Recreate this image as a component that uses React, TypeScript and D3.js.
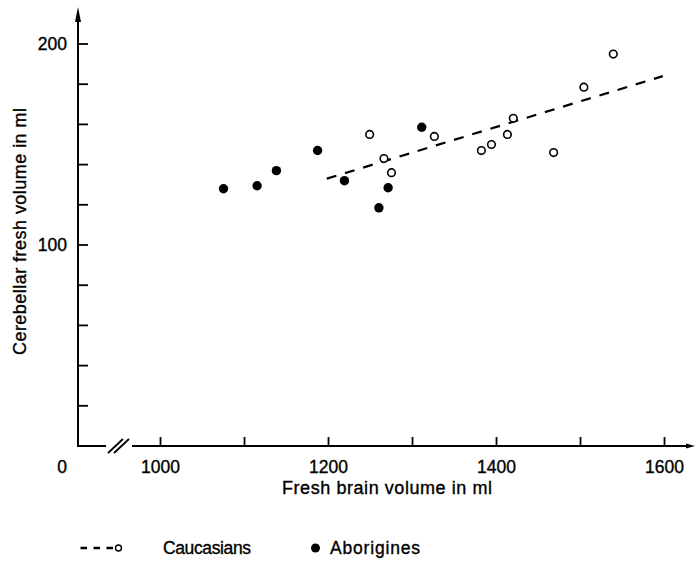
import React from "react";
import * as d3 from "d3";

const caucasianBrain = [1249, 1266, 1275, 1326, 1382, 1394, 1413, 1420, 1468, 1504, 1539];
const caucasianCereb = [155, 143, 136, 154, 147, 150, 155, 163, 146, 178.5, 195];
const aborigineBrain = [1075, 1115, 1138, 1187, 1219, 1260, 1271, 1311];
const aborigineCereb = [128, 129.5, 137, 147, 132, 118.5, 128.5, 158.6];
const fitBrain = [1198, 1598];
const fitCereb = [133, 184];
const xTickValues = [1000, 1100, 1200, 1300, 1400, 1500, 1600];
const xTickLabels = ["1000", "", "1200", "", "1400", "", "1600"];
const yTickValues = [20, 40, 60, 80, 100, 120, 140, 160, 180, 200];
const yTickLabels = ["", "", "", "", "100", "", "", "", "", "200"];

const FONT = "'Liberation Sans', Arial, Helvetica, sans-serif";
const TS = { stroke: "#000", strokeWidth: 0.35 };

export default function App() {
  const x = d3.scaleLinear().domain([1000, 1600]).range([160.5, 664.5]);
  const y = d3.scaleLinear().domain([0, 200]).range([446, 44]);
  const x0 = 78;
  const y0 = y(0);
  const line = d3
    .line<number>()
    .x((d, i) => x(fitBrain[i]))
    .y((d, i) => y(fitCereb[i]));

  return (
    <svg
      width={696}
      height={564}
      style={{ position: "absolute", left: 0, top: 0, background: "#fff" }}
      fontFamily={FONT}
    >
      <rect width={696} height={564} fill="#fff" />
      {/* y axis */}
      <line x1={x0} y1={y0 + 1} x2={x0} y2={16} stroke="#000" strokeWidth={2} />
      <path d={`M${x0 - 3},22 L${x0},7 L${x0 + 3},22 Z`} fill="#000" />
      {yTickValues.map((v, i) => (
        <g key={"yt" + v}>
          <line x1={x0} x2={x0 + 10} y1={y(v)} y2={y(v)} stroke="#000" strokeWidth={1.8} />
          {yTickLabels[i] && (
            <text x={67} y={y(v)} dy="0.36em" textAnchor="end" fontSize={17.5} fill="#000" {...TS}>
              {yTickLabels[i]}
            </text>
          )}
        </g>
      ))}
      {/* x axis */}
      <line x1={x0 - 1} y1={y0} x2={688} y2={y0} stroke="#000" strokeWidth={2} />
      <path d={`M686,${y0 - 2.5} L695,${y0} L686,${y0 + 2.5} Z`} fill="#000" />
      {/* break marks */}
      <rect x={106} y={y0 - 2} width={26} height={4} fill="#fff" />
      <line x1={108} y1={453} x2={123} y2={439} stroke="#000" strokeWidth={1.8} />
      <line x1={114} y1={453} x2={129} y2={439} stroke="#000" strokeWidth={1.8} />
      {xTickValues.map((v, i) => (
        <g key={"xt" + v}>
          <line x1={x(v)} x2={x(v)} y1={y0} y2={y0 - 9} stroke="#000" strokeWidth={1.8} />
          {xTickLabels[i] && (
            <text x={x(v)} y={473} textAnchor="middle" fontSize={17.5} fill="#000" {...TS}>
              {xTickLabels[i]}
            </text>
          )}
        </g>
      ))}
      <text x={62} y={473} textAnchor="middle" fontSize={17.5} fill="#000" {...TS}>
        0
      </text>
      {/* titles */}
      <text
        x={282}
        y={494}
        fontSize={18}
        fill="#000"
        textLength={210}
        lengthAdjust="spacing"
        {...TS}
      >
        Fresh brain volume in ml
      </text>
      <text
        transform={`translate(26,355) rotate(-90)`}
        fontSize={18}
        fill="#000"
        textLength={247}
        lengthAdjust="spacing"
        {...TS}
      >
        Cerebellar fresh volume in ml
      </text>
      {/* regression line */}
      <path
        d={line(fitBrain) || ""}
        fill="none"
        stroke="#000"
        strokeWidth={2.2}
        strokeDasharray="10 9"
      />
      {/* points */}
      {aborigineBrain.map((v, i) => (
        <circle key={"a" + i} cx={x(v)} cy={y(aborigineCereb[i])} r={4.7} fill="#000" />
      ))}
      {caucasianBrain.map((v, i) => (
        <circle
          key={"c" + i}
          cx={x(v)}
          cy={y(caucasianCereb[i])}
          r={3.8}
          fill="#fff"
          stroke="#000"
          strokeWidth={1.6}
        />
      ))}
      {/* legend */}
      <line x1={80.5} x2={114} y1={548} y2={548} stroke="#000" strokeWidth={2.3} strokeDasharray="6.5 6.5" />
      <circle cx={118.5} cy={548} r={3} fill="#fff" stroke="#000" strokeWidth={1.4} />
      <text x={163} y={554} fontSize={17.5} fill="#000" textLength={88} lengthAdjust="spacing" {...TS}>
        Caucasians
      </text>
      <circle cx={315.5} cy={548} r={4.5} fill="#000" />
      <text x={330} y={554} fontSize={17.5} fill="#000" textLength={90} lengthAdjust="spacing" {...TS}>
        Aborigines
      </text>
    </svg>
  );
}
